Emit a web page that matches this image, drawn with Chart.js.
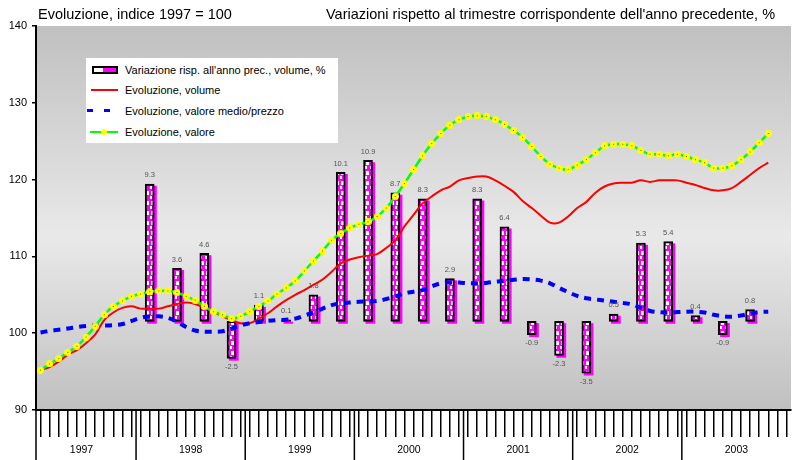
<!DOCTYPE html>
<html>
<head>
<meta charset="utf-8">
<script src="https://cdn.jsdelivr.net/npm/chart.js@4.4.1/dist/chart.umd.min.js"></script>
<style>
  html, body { margin: 0; padding: 0; background: #fff; }
  #box { position: relative; width: 798px; height: 460px; font-family: "Liberation Sans", Arial, sans-serif; }
  .titolo { position: absolute; top: 7px; font-size: 14.5px; line-height: 1; color: #000; white-space: nowrap; }
  #legenda { position: absolute; left: 86px; top: 58px; width: 252px; height: 85px; background: #fff; font-size: 11px; color: #000; }
  .voce { position: absolute; left: 39px; white-space: nowrap; line-height: 14px; }
  .ico { position: absolute; }
</style>
</head>
<body>
<div id="box">
  <canvas id="grafico"></canvas>
  <div class="titolo" style="left:38px">Evoluzione, indice 1997 = 100</div>
  <div class="titolo" style="left:326px">Variazioni rispetto al trimestre corrispondente dell'anno precedente, %</div>
  <div id="legenda">
    <div class="ico" style="left:6px;top:8px;width:22px;height:4px;border:2px solid #000;background:linear-gradient(to right,#fff 0,#fff 40%,#ff00ff 40%,#ff00ff 100%)"></div>
    <div class="voce" style="top:5px">Variazione risp. all'anno prec., volume, %</div>
    <div class="ico" style="left:5px;top:31px;width:27px;height:2px;background:#ff0000"></div>
    <div class="voce" style="top:25px">Evoluzione, volume</div>
    <div class="ico" style="left:1px;top:51px;width:6px;height:3px;background:#0000ff"></div>
    <div class="ico" style="left:18px;top:51px;width:6px;height:3px;background:#0000ff"></div>
    <div class="voce" style="top:46px">Evoluzione, valore medio/prezzo</div>
    <div class="ico" style="left:4px;top:73px;width:28px;height:2px;background:#00ff00"></div>
    <div class="ico" style="left:15px;top:71px;width:6px;height:6px;border-radius:50%;background:#ffff00"></div>
    <div class="voce" style="top:67px">Evoluzione, valore</div>
  </div>
</div>
<script>
const anni = ['1997', '1998', '1999', '2000', '2001', '2002', '2003'];

// serie mensili, da febbraio 1997 a ottobre 2003 (indice 1997 = 100)
const volume = [95.2, 95.6, 96.3, 97.2, 97.8, 98.7, 99.8, 101.7, 102.7, 103.3,
  103.5, 103.2, 103.2, 103.2, 103.5, 103.8, 104.0, 103.8, 103.3, 102.8,
  102.2, 101.7, 101.3, 101.3, 101.9, 102.6, 103.5, 104.3, 105.0, 105.6,
  106.3, 107.0, 108.0, 109.1, 109.6, 109.9, 110.1, 110.3, 111.1, 112.1,
  113.9, 115.4, 116.9, 117.8, 118.6, 119.1, 119.9, 120.2, 120.4, 120.4,
  119.9, 119.2, 118.4, 117.2, 116.3, 115.3, 114.4, 114.4, 115.2, 116.3,
  117.1, 118.3, 119.1, 119.5, 119.6, 119.6, 119.9, 119.7, 119.9, 119.9,
  119.9, 119.6, 119.3, 118.9, 118.6, 118.6, 118.9, 119.7, 120.6, 121.5, 122.2];

const prezzo = [100.1, 100.3, 100.45, 100.6, 100.8, 100.95, 101.0, 101.0, 101.05, 101.2,
  101.6, 102.0, 102.2, 102.2, 102.0, 101.5, 100.8, 100.35, 100.2, 100.2,
  100.25, 100.6, 101.0, 101.3, 101.45, 101.6, 101.7, 101.75, 101.9, 102.3,
  102.7, 103.2, 103.65, 103.9, 104.0, 104.1, 104.15, 104.2, 104.45, 104.8,
  105.2, 105.4, 105.6, 106.1, 106.5, 106.6, 106.6, 106.5, 106.5, 106.55,
  106.7, 106.8, 106.95, 107.05, 107.0, 106.85, 106.5, 105.9, 105.35, 104.85,
  104.55, 104.4, 104.25, 104.1, 103.95, 103.75, 103.3, 102.9, 102.75, 102.65,
  102.75, 102.8, 102.8, 102.7, 102.4, 102.2, 102.15, 102.3, 102.55, 102.75, 102.8];

const valore = [95.2, 96.0, 96.7, 97.5, 98.3, 99.5, 100.9, 102.4, 103.5, 104.2,
  104.8, 105.1, 105.4, 105.5, 105.5, 105.3, 104.8, 104.3, 103.5, 102.8,
  102.4, 101.9, 102.2, 102.8, 103.5, 104.2, 105.1, 105.9, 106.8, 108.1,
  109.4, 110.7, 112.1, 113.0, 113.7, 114.2, 114.5, 115.2, 116.3, 117.8,
  119.5, 121.3, 123.1, 124.7, 126.0, 127.1, 127.8, 128.2, 128.3, 128.2,
  127.8, 127.2, 126.4, 125.5, 124.3, 123.0, 122.0, 121.5, 121.3, 121.9,
  122.6, 123.5, 124.4, 124.6, 124.6, 124.4, 123.8, 123.3, 123.3, 123.1,
  123.3, 123.0, 122.6, 122.2, 121.5, 121.5, 121.8, 122.6, 123.6, 124.8, 126.0];

// variazioni trimestrali, dal I trim. 1998 al III trim. 2003
const variazioni = [9.3, 3.6, 4.6, -2.5, 1.1, 0.1, 1.8, 10.1, 10.9, 8.7, 8.3, 2.9,
  8.3, 6.4, -0.9, -2.3, -3.5, 0.5, 5.3, 5.4, 0.4, -0.9, 0.8];

const confiniAnni = [1, 12, 24, 36, 48, 60, 72];

// asse in mesi: 0 = inizio gennaio 1997
const mensili = (serie) => serie.map((v, i) => ({x: i + 1.5, y: v}));
const trimestrali = variazioni.map((v, j) => ({x: 13.5 + 3 * j, y: v}));

function motivo() {
  const c = document.createElement('canvas');
  c.width = 5; c.height = 10;
  const g = c.getContext('2d');
  g.fillStyle = '#ff00ff'; g.fillRect(0, 0, 5, 10);
  g.fillStyle = '#ffffff';
  g.fillRect(1, 1, 3, 4);
  g.fillRect(0, 6, 2, 3);
  return g.createPattern(c, 'repeat');
}

const punto = document.createElement('canvas');
punto.width = 7; punto.height = 7;
const pg = punto.getContext('2d');
pg.fillStyle = '#ffff00';
pg.beginPath(); pg.arc(3.5, 3.5, 3.5, 0, Math.PI * 2); pg.fill();
pg.fillStyle = '#6b5e00'; pg.fillRect(3, 3, 1, 1);

const sfondo = {
  id: 'sfondo',
  beforeDraw(chart) {
    const {ctx, chartArea: a} = chart;
    const grad = ctx.createLinearGradient(0, a.top, 0, a.bottom);
    grad.addColorStop(0, '#c0c0c0');
    grad.addColorStop(0.55, '#e9e9e9');
    grad.addColorStop(1, '#c0c0c0');
    ctx.save();
    ctx.fillStyle = grad;
    ctx.fillRect(a.left, a.top, a.right - a.left, a.bottom - a.top);
    ctx.restore();
  }
};

const separatori = {
  id: 'separatori',
  afterDraw(chart) {
    const {ctx, chartArea: a, scales} = chart;
    ctx.save();
    ctx.strokeStyle = '#000';
    ctx.lineWidth = 1.5;
    confiniAnni.forEach(m => {
      const x = scales.x.getPixelForValue(m);
      ctx.beginPath();
      ctx.moveTo(x, a.bottom);
      ctx.lineTo(x, chart.height);
      ctx.stroke();
    });
    ctx.restore();
  }
};

const etichette = {
  id: 'etichette',
  afterDatasetsDraw(chart) {
    const {ctx} = chart;
    const meta = chart.getDatasetMeta(3);
    ctx.save();
    ctx.font = '7.5px "Liberation Sans", Arial, sans-serif';
    ctx.fillStyle = '#555';
    ctx.textAlign = 'center';
    meta.data.forEach((bar, i) => {
      const v = variazioni[i];
      if (v >= 0) {
        ctx.textBaseline = 'bottom';
        ctx.fillText(v.toFixed(1), bar.x, bar.y - 5);
      } else {
        ctx.textBaseline = 'top';
        ctx.fillText(v.toFixed(1), bar.x, bar.y + 5);
      }
    });
    ctx.restore();
  }
};

const graph = document.querySelector('#grafico');

new Chart(graph, {
  type: 'line',
  data: {
    datasets: [
      {
        label: 'Evoluzione, valore',
        data: mensili(valore),
        borderColor: '#00ff00',
        borderWidth: 2.5,
        pointStyle: punto,
        pointRadius: 3,
        tension: 0.35,
        order: 0
      },
      {
        label: 'Evoluzione, valore medio/prezzo',
        data: mensili(prezzo),
        borderColor: '#0000ff',
        borderWidth: 4,
        borderDash: [7, 6],
        pointRadius: 0,
        tension: 0.35,
        order: 1
      },
      {
        label: 'Evoluzione, volume',
        data: mensili(volume),
        borderColor: '#ff0000',
        borderWidth: 2,
        pointRadius: 0,
        tension: 0.35,
        order: 2
      },
      {
        type: 'bar',
        label: 'Variazione risp. all\'anno prec., volume, %',
        data: trimestrali,
        yAxisID: 'y2',
        backgroundColor: motivo(),
        borderColor: '#000',
        borderWidth: 2,
        borderSkipped: false,
        barThickness: 9,
        grouped: false,
        order: 3
      },
      {
        type: 'bar',
        label: 'ombra',
        data: trimestrali,
        xAxisID: 'xs',
        yAxisID: 'ys',
        backgroundColor: '#ff00ff',
        borderWidth: 0,
        barThickness: 9,
        grouped: false,
        order: 4
      }
    ]
  },
  options: {
    responsive: true,
    maintainAspectRatio: false,
    animation: false,
    layout: { padding: { top: 26, right: 1, left: 0, bottom: 0 } },
    plugins: {
      legend: { display: false },
      tooltip: { enabled: false },
      title: { display: false }
    },
    scales: {
      x: {
        type: 'linear',
        min: 1,
        max: 84,
        offset: false,
        afterBuildTicks: s => { s.ticks = Array.from({length: 84}, (_, i) => ({value: i + 1})); },
        afterFit: s => { s.height = 50; },
        ticks: {
          autoSkip: false,
          maxRotation: 0,
          padding: 7,
          color: '#000',
          font: { size: 10.5, family: '"Liberation Sans", Arial, sans-serif' },
          callback: v => ((v - 6) % 12 === 0 ? anni[(v - 6) / 12] : '')
        },
        grid: { drawOnChartArea: false, tickLength: 27, color: '#000', lineWidth: 1.5 },
        border: { display: true, color: '#000', width: 2 }
      },
      y: {
        min: 90,
        max: 140,
        afterFit: s => { s.width = 36; },
        ticks: {
          stepSize: 10,
          padding: 5,
          color: '#000',
          font: { size: 11, family: '"Liberation Sans", Arial, sans-serif' }
        },
        grid: { drawOnChartArea: false, tickLength: 4, color: '#000', lineWidth: 1.5 },
        border: { display: true, color: '#000', width: 2 }
      },
      y2: { min: -6, max: 20, display: false },
      xs: { type: 'linear', min: 0.75, max: 83.75, offset: false, display: false },
      ys: { min: -5.86, max: 20.14, display: false }
    }
  },
  plugins: [sfondo, separatori, etichette]
});
</script>
</body>
</html>
